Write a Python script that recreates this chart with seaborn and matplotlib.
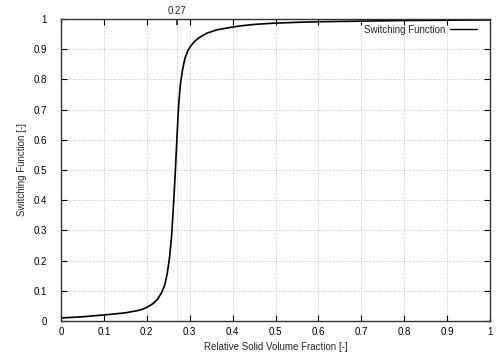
import matplotlib
matplotlib.use("Agg")
import matplotlib.pyplot as plt
import seaborn as sns
import pandas as pd

fraction = [0.0, 0.05, 0.1, 0.15, 0.184, 0.2, 0.215, 0.225, 0.235, 0.242, 0.248, 0.253,
            0.258, 0.262, 0.266, 0.270, 0.274, 0.278, 0.283, 0.289, 0.295, 0.301, 0.312,
            0.324, 0.34, 0.363, 0.39, 0.417, 0.45, 0.494, 0.55, 0.604, 0.7, 0.8, 0.9, 1.0]
switching = [0.010, 0.014, 0.020, 0.027, 0.036, 0.045, 0.058, 0.072, 0.095, 0.120, 0.160, 0.210,
             0.285, 0.380, 0.480, 0.600, 0.710, 0.780, 0.830, 0.870, 0.893, 0.908, 0.927,
             0.940, 0.953, 0.964, 0.971, 0.977, 0.982, 0.986, 0.989, 0.991, 0.993, 0.995, 0.996, 0.997]
marker_x = 0.27
marker_label = "0.27"

sns.set_theme(style="white")
plt.rcParams['font.family'] = ['Liberation Sans', 'DejaVu Sans']

df = pd.DataFrame({"fraction": fraction, "switching": switching})

fig = plt.figure(figsize=(5.04, 3.53), dpi=100)
ax = fig.add_axes([61/504, 1-321/353, 429/504, 302/353])

sns.lineplot(data=df, x="fraction", y="switching", ax=ax, color="black",
             linewidth=1.2, label="Switching Function", sort=False)

ax.set_xlim(0, 1)
ax.set_ylim(0, 1)
ticks = [i/10 for i in range(11)]
ax.set_xticks(ticks)
ax.set_yticks(ticks)
ax.set_xticklabels(["0"] + [f"{t:g}" for t in ticks[1:-1]] + ["1"])
ax.set_yticklabels(["0"] + [f"{t:g}" for t in ticks[1:-1]] + ["1"])
ax.grid(True, color="#b0b0b0", linestyle=(0, (1, 2)), linewidth=0.6)
ax.axvline(marker_x, color="#b0b0b0", linestyle=(0, (1, 2)), linewidth=0.6, zorder=0)

ax.tick_params(axis="both", which="both", direction="in", length=4, width=0.8,
               top=True, right=True, labelsize=7, colors="black",
               bottom=True, left=True)
ax.tick_params(axis="x", pad=4)
ax.tick_params(axis="y", pad=10)
for s in ax.spines.values():
    s.set_color("#333333")
    s.set_linewidth(1.0)

sec = ax.secondary_xaxis("top")
sec.set_xticks([marker_x])
sec.set_xticklabels([marker_label])
sec.tick_params(direction="in", length=4, labelsize=7, pad=2)
sec.spines["top"].set_visible(False)

ax.set_xlabel("Relative Solid Volume Fraction [-]", fontsize=7, labelpad=4)
ax.set_ylabel("Switching Function [-]", fontsize=7, labelpad=5)

leg = ax.legend(loc="upper right", bbox_to_anchor=(0.9796, 0.994), frameon=False,
                fontsize=7, markerfirst=False, handlelength=2.8, borderaxespad=0,
                handletextpad=0.5)
for l in leg.get_lines():
    l.set_linewidth(1.0)

fig.savefig("out.png", dpi=100, facecolor="white")
